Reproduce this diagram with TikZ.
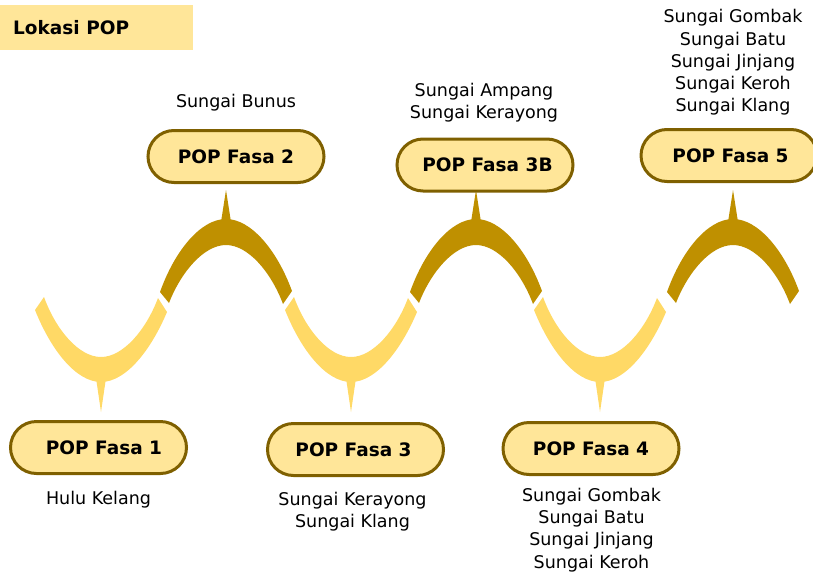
\documentclass[tikz,border=0pt]{standalone}
\usepackage{fontspec}
\setmainfont{DejaVu Sans}
\definecolor{lightgold}{HTML}{FFD966}
\definecolor{darkgold}{HTML}{BF9000}
\definecolor{boxfill}{HTML}{FFE699}
\definecolor{boxline}{HTML}{7F6000}
\tikzset{
 popbox/.style={draw=boxline, fill=boxfill, line width=3pt, rounded corners=26pt,
   minimum width=176pt, minimum height=52pt, inner sep=0pt,
   font=\fontsize{18.5}{22}\selectfont\bfseries},
 river/.style={align=center, inner sep=0pt, font=\fontsize{17.5}{22.2}\selectfont},
 lowband/.style={fill=lightgold},
 highband/.style={fill=darkgold},
}
\newcommand\drawlow[2]{%
 \begin{scope}[shift={(#2,0)}]
  \fill[lowband] (-66,310) .. controls (-50,350) and (-25,382) .. (0,382)
     .. controls (25,382) and (50,350) .. (66,312) -- (57,298)
     .. controls (45,330) and (22,357) .. (0,357)
     .. controls (-22,357) and (-45,330) .. (-57,297) -- cycle;
  \fill[lowband] (-5,378) -- (0,412) -- (5,378) -- cycle;
  \coordinate (#1) at (0,412);
 \end{scope}}
\newcommand\drawhigh[2]{%
 \begin{scope}[shift={(#2,0)}]
  \fill[highband] (-66,292) .. controls (-51,250) and (-25,219) .. (0,219)
     .. controls (25,219) and (51,250) .. (66,291) -- (57,304)
     .. controls (45,272) and (22,245) .. (0,245)
     .. controls (-22,245) and (-45,272) .. (-57,303) -- cycle;
  \fill[highband] (-5,222) -- (0,190) -- (5,222) -- cycle;
  \coordinate (#1) at (0,190);
 \end{scope}}
\begin{document}
\begin{tikzpicture}[x=1pt,y=-1pt]
\useasboundingbox (0,0) rectangle (813,573);
% title
\fill[boxfill] (0,5) rectangle (193,50);
\node[anchor=west, inner sep=0pt, font=\fontsize{18.5}{22}\selectfont\bfseries] (title) at (13,28) {Lokasi POP};
% wave
\drawlow{s1}{101}
\drawhigh{s2}{226}
\drawlow{s3}{351}
\drawhigh{s3b}{476}
\drawlow{s4}{600}
\drawhigh{s5}{733}
% boxes
\node[popbox] (f1) at (98.5,447.5) {\hspace*{11pt}POP Fasa 1};
\node[popbox] (f2) at (236,156.5) {POP Fasa 2};
\node[popbox] (f3) at (355.5,449.5) {POP Fasa 3\hspace*{4pt}};
\node[popbox] (f3b) at (485,165) {\hspace*{5pt}POP Fasa 3B};
\node[popbox] (f4) at (591,448.5) {POP Fasa 4};
\node[popbox] (f5) at (729,155.5) {\hspace*{3pt}POP Fasa 5};
% river labels
\node[river] (t1) at (98.5,500) {Hulu Kelang};
\node[river] (t2) at (236,103) {Sungai Bunus};
\node[river] (t3) at (352.5,512) {Sungai Kerayong\\Sungai Klang};
\node[river] (t3b) at (484,103) {Sungai Ampang\\Sungai Kerayong};
\node[river] (t4) at (591.5,530) {Sungai Gombak\\Sungai Batu\\Sungai Jinjang\\Sungai Keroh};
\node[river] (t5) at (733,62.5) {Sungai Gombak\\Sungai Batu\\Sungai Jinjang\\Sungai Keroh\\Sungai Klang};
\end{tikzpicture}
\end{document}
